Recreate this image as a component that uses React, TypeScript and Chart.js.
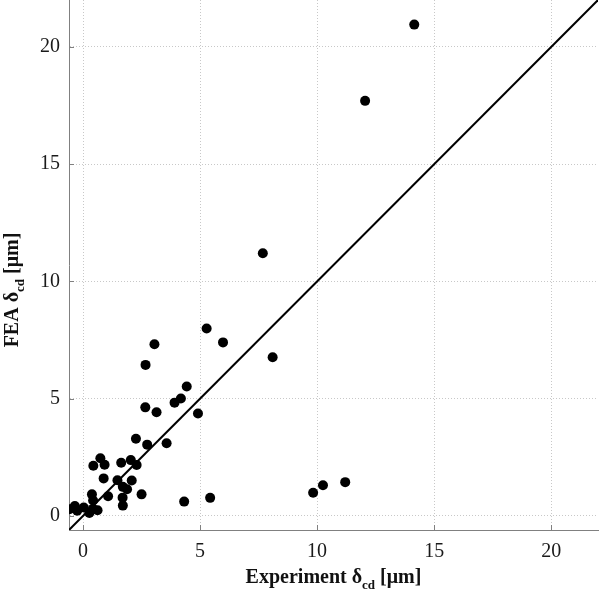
import React, { useEffect, useRef } from "react";
import { Chart, registerables } from "chart.js";

Chart.register(...registerables);

// Experiment δcd [μm] (x) vs FEA δcd [μm] (y)
const experimentX = [
  14.15, 12.05, 7.68, 8.1, 5.28, 5.98, 3.05, 2.67, 4.43, 4.18, 3.91, 2.66,
  3.14, 4.91, 2.26, 2.74, 3.57, 0.74, 0.92, 0.44, 1.63, 2.04, 2.29, 0.88,
  1.47, 2.08, 1.7, 1.88, 1.69, 1.7, 2.5, 1.07, 0.38, 0.43, 4.32, 5.43,
  9.83, 10.25, 11.2, 0.62, 0.27, 0.03, -0.35, -0.58, -0.25, 0.42,
];
const feaY = [
  20.95, 17.7, 11.2, 6.77, 7.99, 7.4, 7.32, 6.44, 5.52, 5.01, 4.83, 4.63,
  4.42, 4.37, 3.29, 3.04, 3.1, 2.46, 2.18, 2.14, 2.27, 2.38, 2.17, 1.6,
  1.52, 1.51, 1.24, 1.14, 0.78, 0.44, 0.92, 0.84, 0.92, 0.66, 0.61, 0.77,
  0.99, 1.31, 1.44, 0.24, 0.13, 0.36, 0.42, 0.29, 0.22, 0.3,
];

const tickValues = [0, 5, 10, 15, 20];
const axisMin = -0.6;
const axisMax = 22;
const identityLine = [axisMin, axisMax];

const xTitleParts = ["Experiment δ", "cd", " [μm]"];
const yTitleParts = ["FEA δ", "cd", " [μm]"];

const MAIN_FONT = "bold 20px 'Liberation Serif', 'Times New Roman', serif";
const SUB_FONT = "bold 13px 'Liberation Serif', 'Times New Roman', serif";

function drawSubTitle(ctx: CanvasRenderingContext2D, parts: string[], cx: number) {
  ctx.font = MAIN_FONT;
  const w1 = ctx.measureText(parts[0]).width;
  const w3 = ctx.measureText(parts[2]).width;
  ctx.font = SUB_FONT;
  const w2 = ctx.measureText(parts[1]).width;
  const total = w1 + w2 + w3;
  let x = cx - total / 2;
  ctx.textAlign = "left";
  ctx.textBaseline = "alphabetic";
  ctx.fillStyle = "#111";
  ctx.font = MAIN_FONT;
  ctx.fillText(parts[0], x, 0);
  x += w1;
  ctx.font = SUB_FONT;
  ctx.fillText(parts[1], x, 6);
  x += w2;
  ctx.font = MAIN_FONT;
  ctx.fillText(parts[2], x, 0);
}

const titlePlugin = {
  id: "subscriptTitles",
  afterDraw(chart: any) {
    const ctx = chart.ctx as CanvasRenderingContext2D;
    const area = chart.chartArea;
    ctx.save();
    ctx.translate(0, 583);
    drawSubTitle(ctx, xTitleParts, (area.left + area.right) / 2);
    ctx.restore();
    ctx.save();
    ctx.translate(18, 0);
    ctx.rotate(-Math.PI / 2);
    drawSubTitle(ctx, yTitleParts, -290);
    ctx.restore();
  },
};

// small inward tick marks on the bottom and left axes
const innerTicksPlugin = {
  id: "innerTicks",
  afterDatasetsDraw(chart: any) {
    const ctx = chart.ctx as CanvasRenderingContext2D;
    const area = chart.chartArea;
    const xs = chart.scales.x;
    const ys = chart.scales.y;
    ctx.save();
    ctx.strokeStyle = "#808080";
    ctx.lineWidth = 1;
    ctx.beginPath();
    tickValues.forEach((v) => {
      const px = Math.round(xs.getPixelForValue(v)) + 0.5;
      ctx.moveTo(px, area.bottom);
      ctx.lineTo(px, area.bottom - 5);
      const py = Math.round(ys.getPixelForValue(v)) + 0.5;
      ctx.moveTo(area.left, py);
      ctx.lineTo(area.left + 5, py);
    });
    ctx.stroke();
    ctx.restore();
  },
};

export default function App() {
  const canvasRef = useRef<HTMLCanvasElement | null>(null);

  useEffect(() => {
    document.body.style.margin = "0";
    const canvas = canvasRef.current;
    if (!canvas) return;
    const points = experimentX.map((x, i) => ({ x, y: feaY[i] }));
    const line = identityLine.map((v) => ({ x: v, y: v }));
    const tickFont = { family: "'Liberation Serif', 'Times New Roman', serif", size: 20 };
    const setTicks = (scale: any) => {
      scale.ticks = tickValues.map((v) => ({ value: v }));
    };
    const chart = new Chart(canvas, {
      type: "scatter",
      data: {
        datasets: [
          {
            type: "scatter",
            data: points,
            backgroundColor: "#000",
            borderWidth: 0,
            pointRadius: 5,
            pointHoverRadius: 5,
          },
          {
            type: "line",
            data: line,
            borderColor: "#000",
            borderWidth: 2,
            pointRadius: 0,
            fill: false,
          },
        ],
      },
      options: {
        animation: false,
        responsive: true,
        maintainAspectRatio: false,
        layout: { autoPadding: false, padding: { left: 0, right: 2, top: 0, bottom: 0 } },
        plugins: { legend: { display: false }, tooltip: { enabled: false } },
        scales: {
          x: {
            type: "linear",
            min: axisMin,
            max: axisMax,
            afterBuildTicks: setTicks,
            afterFit: (scale: any) => {
              scale.height = 62;
              scale.paddingLeft = 0;
              scale.paddingRight = 0;
            },
            ticks: { font: tickFont, color: "#1a1a1a", padding: 10, maxRotation: 0 },
            grid: { color: "#c8c8c8", lineWidth: 1, drawTicks: false },
            border: { color: "#808080", width: 1, dash: [1, 2] },
          },
          y: {
            type: "linear",
            min: axisMin,
            max: axisMax,
            afterBuildTicks: setTicks,
            afterFit: (scale: any) => {
              scale.width = 69;
              scale.paddingTop = 0;
              scale.paddingBottom = 0;
            },
            ticks: { font: tickFont, color: "#1a1a1a", padding: 9 },
            grid: { color: "#c8c8c8", lineWidth: 1, drawTicks: false },
            border: { color: "#808080", width: 1, dash: [1, 2] },
          },
        },
      },
      plugins: [titlePlugin, innerTicksPlugin],
    });
    return () => chart.destroy();
  }, []);

  return (
    <div style={{ position: "relative", width: 600, height: 592 }}>
      <canvas ref={canvasRef} />
    </div>
  );
}
